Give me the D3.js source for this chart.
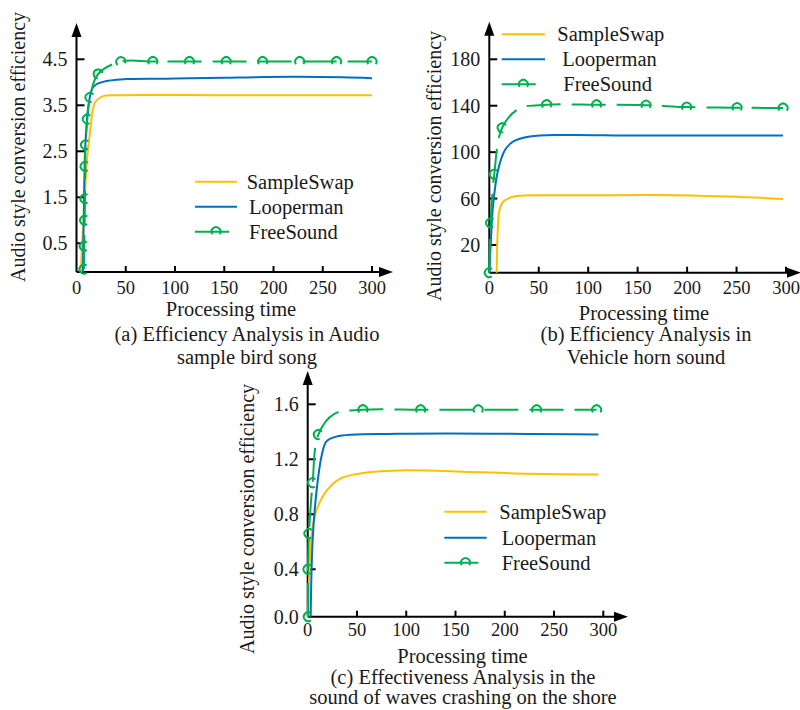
<!DOCTYPE html>
<html>
<head>
<meta charset="utf-8">
<script src="https://cdn.jsdelivr.net/npm/d3@7"></script>
<style>
  html, body { margin: 0; padding: 0; background: #fff; }
  svg text { font-family: "Liberation Serif", "Times New Roman", serif; fill: #1a1a1a; }
</style>
</head>
<body>
<svg id="chart" width="800" height="710"></svg>
<script>
// ---------- data ----------
const seriesNames = ["SampleSwap", "Looperman", "FreeSound"];
const seriesColors = ["#FFC000", "#0070C0", "#00B050"];
const xTicks = [0, 50, 100, 150, 200, 250, 300];
const xAxisTitle = "Processing time";
const yAxisTitle = "Audio style conversion efficiency";

// Panel (a)
const aYTicks = [0.5, 1.5, 2.5, 3.5, 4.5];
const aYTickLabels = ["0.5", "1.5", "2.5", "3.5", "4.5"];
const aSampleSwap = [[4.3,0],[6,0.6],[8,1.3],[10.4,2.25],[12,2.6],[14.5,3.05],[17,3.45],[20,3.6],[27,3.7],[40,3.72],[150,3.72],[300,3.72]];
const aLooperman = [[6.5,0],[7.5,1.2],[8.5,2.4],[10,3.0],[12,3.47],[17,3.9],[27,4.01],[51,4.07],[100,4.08],[150,4.1],[220,4.12],[270,4.11],[300,4.09]];
const aFreeSound = [[7.6,0.05],[7.9,0.45],[8.3,1.0],[8.6,1.47],[8.8,2.17],[9.2,2.64],[11,3.2],[13.7,3.67],[22,4.18],[45,4.45],[77.5,4.45],[114.7,4.45],[152,4.45],[189,4.45],[226.6,4.45],[264,4.45],[300,4.45]];
const aCaption = ["(a) Efficiency Analysis in Audio", "sample bird song"];

// Panel (b)
const bYTicks = [20, 60, 100, 140, 180];
const bYTickLabels = ["20", "60", "100", "140", "180"];
const bSampleSwap = [[7.5,0],[8,20],[9,40],[10,49],[14,57.3],[24,61.6],[33,62.5],[50,62.8],[100,62.8],[160,63.1],[220,62.3],[260,61.2],[297,59.7]];
const bLooperman = [[0,0],[2,30],[4,56],[9,85],[16,102],[24,109],[41,113.4],[75,114.8],[150,114.3],[297,114.3]];
const bFreeSound = [[0,0,1],[1.4,39,1],[5,81,1],[13,121,1],[30,137.5,0],[58,140.8,1],[108.5,140.8,1],[158.5,140.5,1],[199.5,138.8,1],[250.5,138.3,1],[297,138,1]];
const bCaption = ["(b) Efficiency Analysis in", "Vehicle horn sound"];

// Panel (c)
const cYTicks = [0.0, 0.4, 0.8, 1.2, 1.6];
const cYTickLabels = ["0.0", "0.4", "0.8", "1.2", "1.6"];
const cSampleSwap = [[0,0],[1.6,0.34],[4,0.66],[9,0.83],[19,0.97],[33,1.06],[56,1.1],[100,1.12],[158,1.11],[225,1.095],[295,1.09]];
const cLooperman = [[3,0],[5,0.61],[9,0.97],[14,1.22],[19,1.33],[29,1.365],[90,1.385],[295,1.38]];
const cFreeSound = [[0.6,0,1],[0.3,0.4,1],[1.3,0.66,1],[5,1.03,1],[10.8,1.38,1],[27,1.53,0],[56,1.56,1],[114.6,1.56,1],[173,1.56,1],[232.3,1.56,1],[293.2,1.56,1]];
const cCaption = ["(c) Effectiveness Analysis in the", "sound of waves crashing on the shore"];

// ---------- layout ----------
const panels = [
  { x0: 76.5, x300: 372, yDom: [0, 0.5, 4.5], yRange: [272, 243.3, 59.3], yTop: 23, xEnd: 393,
    yTicks: aYTicks, yLabels: aYTickLabels, series: [aSampleSwap, aLooperman, aFreeSound],
    yTitle: { x: 18, y: 147 }, xTitleY: 309, xTitleX: 231, tickLabelY: 288,
    caption: aCaption, capX: 247, capY: [334, 357],
    legend: { x1: 195, x2: 237, ys: [181.7, 206.7, 231.7], tx: [246.7, 249, 249] } },
  { x0: 489.3, x300: 786, yDom: [0, 20, 180], yRange: [272.7, 245, 59.3], yTop: 21.7, xEnd: 801,
    yTicks: bYTicks, yLabels: bYTickLabels, series: [bSampleSwap, bLooperman, bFreeSound],
    yTitle: { x: 434, y: 166 }, xTitleY: 312.5, xTitleX: 644, tickLabelY: 288,
    caption: bCaption, capX: 646, capY: [334, 357],
    legend: { x1: 501.7, x2: 545, ys: [34.3, 59.3, 84.3], tx: [557.3, 562.3, 563.3] } },
  { x0: 307.7, x300: 603.3, yDom: [0, 0.4, 1.6], yRange: [616.7, 569.3, 404.3], yTop: 371, xEnd: 628,
    yTicks: cYTicks, yLabels: cYTickLabels, series: [cSampleSwap, cLooperman, cFreeSound],
    yTitle: { x: 247, y: 519 }, xTitleY: 656, xTitleX: 462.5, tickLabelY: 630,
    caption: cCaption, capX: 463, capY: [677, 697],
    legend: { x1: 444.3, x2: 486.7, ys: [511.7, 537.7, 562.7], tx: [499.3, 501.7, 501.7] } }
];

const svg = d3.select("#chart");
const FS_TICK = 18.5, FS_YTICK = 20, FS_TITLE = 20.5, FS_YTITLE = 20, FS_LEG = 20.5;

function markerArc(cx, cy, ang, r) {
  // arc with a gap centered at (ang + 90deg) on screen
  const gapC = ang + Math.PI / 2;
  const half = 55 * Math.PI / 180;
  const a0 = gapC + half, a1 = gapC + 2 * Math.PI - half;
  const p0 = [cx + r * Math.cos(a0), cy + r * Math.sin(a0)];
  const p1 = [cx + r * Math.cos(a1), cy + r * Math.sin(a1)];
  return `M${p0[0]},${p0[1]} A${r},${r} 0 1 1 ${p1[0]},${p1[1]}`;
}

panels.forEach(p => {
  const g = svg.append("g");
  const x = d3.scaleLinear().domain([0, 300]).range([p.x0, p.x300]);
  const y = d3.scaleLinear().domain(p.yDom).range(p.yRange);
  const yBase = p.yRange[0];

  // axis lines
  g.append("line").attr("x1", p.x0).attr("x2", p.xEnd - 10).attr("y1", yBase).attr("y2", yBase)
    .attr("stroke", "#000").attr("stroke-width", 2);
  g.append("line").attr("x1", p.x0).attr("x2", p.x0).attr("y1", yBase).attr("y2", p.yTop + 10)
    .attr("stroke", "#000").attr("stroke-width", 2);
  // arrows
  g.append("path").attr("d", `M${p.xEnd},${yBase} L${p.xEnd - 14},${yBase - 5} L${p.xEnd - 14},${yBase + 5} Z`).attr("fill", "#000");
  g.append("path").attr("d", `M${p.x0},${p.yTop} L${p.x0 - 5},${p.yTop + 14} L${p.x0 + 5},${p.yTop + 14} Z`).attr("fill", "#000");

  // x ticks
  xTicks.forEach(t => {
    if (t > 0) g.append("line").attr("x1", x(t)).attr("x2", x(t)).attr("y1", yBase).attr("y2", yBase - 6)
      .attr("stroke", "#000").attr("stroke-width", 2);
    g.append("text").attr("x", x(t)).attr("y", p.tickLabelY).attr("dy", "0.35em")
      .attr("text-anchor", "middle").attr("font-size", FS_TICK).text(t);
  });
  // y ticks
  p.yTicks.forEach((t, i) => {
    if (y(t) < yBase - 1) g.append("line").attr("x1", p.x0).attr("x2", p.x0 + 8).attr("y1", y(t)).attr("y2", y(t))
      .attr("stroke", "#000").attr("stroke-width", 2);
    g.append("text").attr("x", p.x0 - 9).attr("y", y(t)).attr("dy", "0.35em")
      .attr("text-anchor", "end").attr("font-size", FS_YTICK).text(p.yLabels[i]);
  });

  // titles
  g.append("text").attr("transform", `translate(${p.yTitle.x},${p.yTitle.y}) rotate(-90)`)
    .attr("dy", "0.35em").attr("text-anchor", "middle").attr("font-size", FS_YTITLE).text(yAxisTitle);
  g.append("text").attr("x", p.xTitleX).attr("y", p.xTitleY).attr("dy", "0.35em")
    .attr("text-anchor", "middle").attr("font-size", FS_TITLE).text(xAxisTitle);
  p.caption.forEach((c, i) => {
    g.append("text").attr("x", p.capX).attr("y", p.capY[i]).attr("dy", "0.35em")
      .attr("text-anchor", "middle").attr("font-size", FS_TITLE).text(c);
  });

  // series
  const line = d3.line().x(d => x(d[0])).y(d => y(d[1])).curve(d3.curveCatmullRom.alpha(0.5));
  p.series.forEach((data, si) => {
    const path = g.append("path").datum(data).attr("d", line).attr("fill", "none")
      .attr("stroke", seriesColors[si]).attr("stroke-width", 2);
    if (si === 2) {
      path.attr("stroke-dasharray", "34,11");
      data.forEach((d, i) => {
        if (d.length > 2 && d[2] === 0) return;
        const prev = data[Math.max(0, i - 1)], next = data[Math.min(data.length - 1, i + 1)];
        const ang = Math.atan2(y(next[1]) - y(prev[1]), x(next[0]) - x(prev[0]));
        g.append("path").attr("d", markerArc(x(d[0]), y(d[1]), ang, 4.5))
          .attr("fill", "none").attr("stroke", seriesColors[2]).attr("stroke-width", 2);
      });
    }
  });

  // legend
  const L = p.legend;
  seriesNames.forEach((n, i) => {
    const x2 = i === 2 ? L.x1 + 34 : L.x2;
    g.append("line").attr("x1", L.x1).attr("x2", x2).attr("y1", L.ys[i]).attr("y2", L.ys[i])
      .attr("stroke", seriesColors[i]).attr("stroke-width", 2);
    if (i === 2) {
      g.append("path").attr("d", markerArc((L.x1 + L.x2) / 2, L.ys[i], 0, 4.5))
        .attr("fill", "none").attr("stroke", seriesColors[2]).attr("stroke-width", 2);
    }
    g.append("text").attr("x", L.tx[i]).attr("y", L.ys[i]).attr("dy", "0.35em")
      .attr("font-size", FS_LEG).text(n);
  });
});
</script>
</body>
</html>
